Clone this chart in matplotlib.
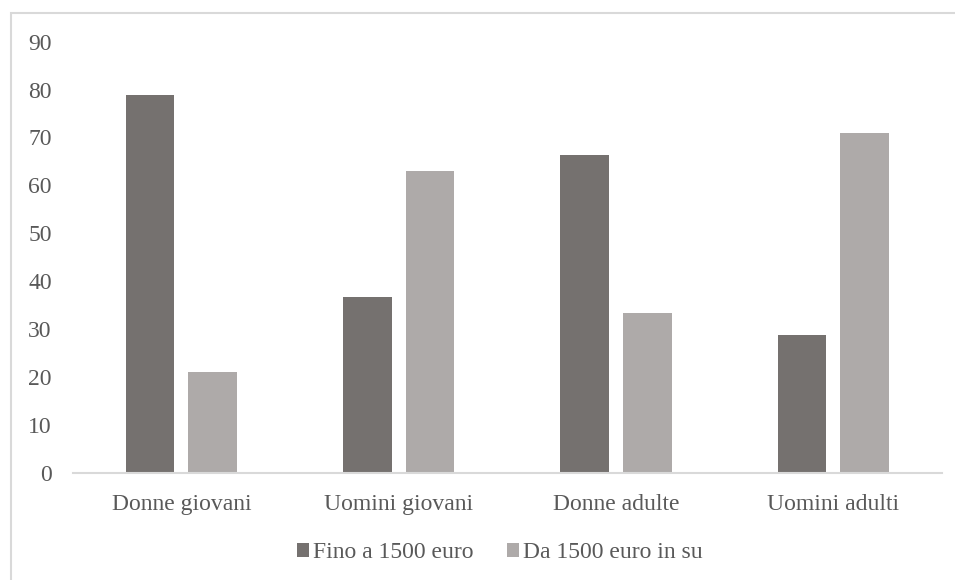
import matplotlib.pyplot as plt
import numpy as np
from matplotlib.patches import Rectangle

categories = ["Donne giovani", "Uomini giovani", "Donne adulte", "Uomini adulti"]
fino_1500 = [78.8, 36.6, 66.3, 28.7]
da_1500 = [21.0, 63.0, 33.4, 70.9]
series_names = ["Fino a 1500 euro", "Da 1500 euro in su"]

plt.rcParams['font.family'] = ['Liberation Serif', 'DejaVu Serif']
text_col = "#595959"

fig = plt.figure(figsize=(9.55, 5.8), dpi=100)
W, H = 955, 580
ax = fig.add_axes([72.7 / W, 1 - 472.7 / H, (942 - 72.7) / W, (472.7 - 41.7) / H])

x = np.arange(len(categories))
bw = 0.223
off = 0.144
ax.bar(x - off, fino_1500, bw, color="#75716f", label=series_names[0])
ax.bar(x + off, da_1500, bw, color="#aeaaa9", label=series_names[1])

ax.set_xlim(-0.5, len(categories) - 0.5)
ax.set_ylim(0, 90)
ax.set_yticks(np.arange(0, 91, 10))
ax.set_xticks(x)
ax.set_xticklabels(categories)

for s in ["top", "right", "left"]:
    ax.spines[s].set_visible(False)
ax.spines["bottom"].set_color("#d9d9d9")
ax.spines["bottom"].set_linewidth(1.5)

ax.tick_params(axis="y", length=0, pad=15, labelsize=17, labelcolor=text_col)
ax.tick_params(axis="x", length=0, pad=15, labelsize=17, labelcolor=text_col)

fig.legend(loc="center", bbox_to_anchor=(500 / W, 1 - 553 / H), ncol=2, frameon=False,
           fontsize=17, labelcolor=text_col, handlelength=0.5, handleheight=0.5,
           handletextpad=0.2, columnspacing=1.4)

# outer chart frame, running off the right and bottom edges
fig.patches.append(Rectangle((10.5 / W, -0.1), 1.1, 1 - 13.5 / H + 0.1,
                             transform=fig.transFigure, fill=False,
                             edgecolor="#d9d9d9", linewidth=1.5))

fig.savefig("out.png", dpi=100)
